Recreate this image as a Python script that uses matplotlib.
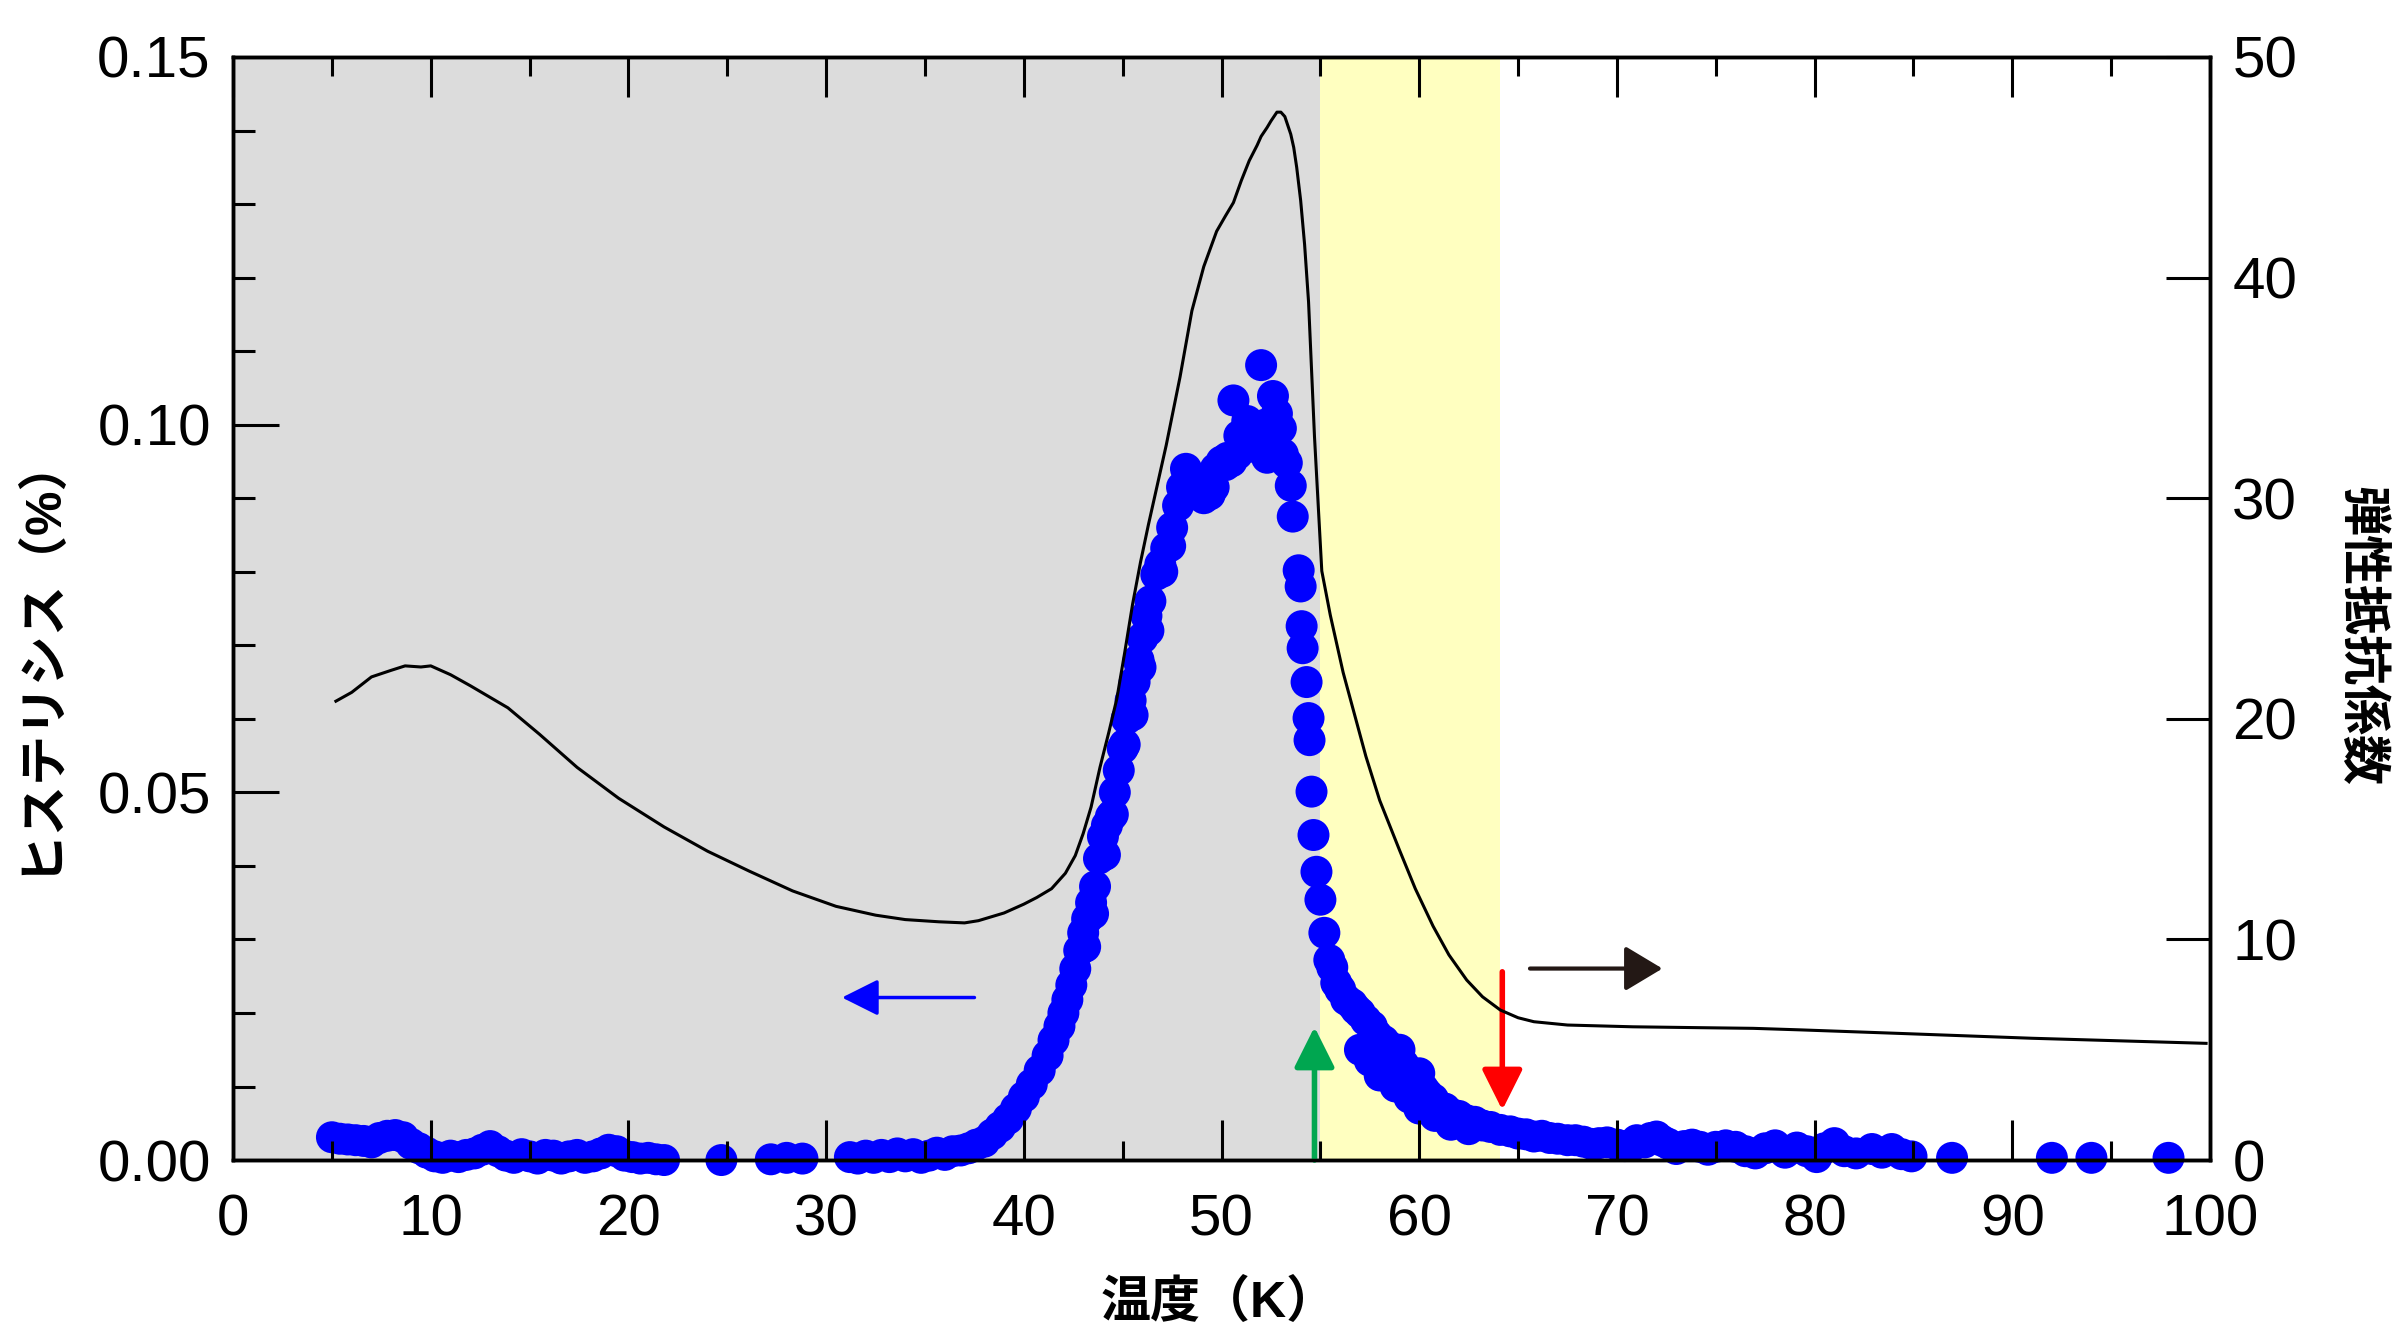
import matplotlib
matplotlib.use("Agg")
import matplotlib.pyplot as plt
from matplotlib.ticker import MultipleLocator

# hysteresis (%) vs temperature (K), left axis
temp_h = [5.0, 5.4, 5.8, 6.2, 6.6, 7.0, 7.4, 7.8, 8.2, 8.6, 9.0, 9.4, 9.8, 10.2, 10.6,
          11.0, 11.4, 11.8, 12.2, 12.6, 13.0, 13.4, 13.8, 14.2, 14.6, 15.0, 15.4, 15.8,
          16.2, 16.6, 17.0, 17.4, 17.8, 18.2, 18.6, 19.0, 19.4, 19.8, 20.2, 20.6, 21.0,
          21.4, 21.8, 24.7, 27.2, 28.0, 28.8,
          31.2, 31.6, 32.0, 32.4, 32.8, 33.2, 33.6, 34.0, 34.4, 34.8, 35.2, 35.6, 36.0,
          36.4, 36.8, 37.2, 37.6, 38.0, 38.4, 38.8, 39.2, 39.6, 40.0, 40.4, 40.8, 41.2,
          41.5, 41.8, 42.0, 42.2, 42.4, 42.6, 42.8, 43.0, 43.2, 43.4, 43.6, 43.8, 44.0,
          44.2, 44.4, 44.6, 44.8, 45.0, 45.2, 45.4, 45.6, 45.8, 46.0, 46.2, 46.4, 46.7,
          46.9, 47.2, 47.5, 47.8, 48.0, 48.2, 48.5, 48.8, 49.1, 49.4, 49.7, 50.0, 50.3,
          50.6, 50.8, 50.9, 51.1, 51.3, 51.4, 51.6, 51.7, 51.9, 52.0, 52.2, 52.3, 52.4,
          52.5, 52.6, 52.8, 53.0, 53.1, 53.3, 53.5, 53.6, 53.9, 54.0, 54.05, 54.1, 54.3,
          54.4, 54.45, 54.55, 54.65, 54.8, 55.0, 55.2, 55.45, 55.8, 56.3, 56.8, 57.3,
          57.85, 58.5, 58.9, 59.4, 59.9, 60.4, 61.0, 61.7, 62.4, 63.2, 64.1, 65.0, 65.8,
          66.6, 67.5, 68.3, 69.1, 70.0, 70.8, 71.4, 72.0, 72.6, 73.4, 74.2, 75.0, 76.0,
          77.0, 78.0, 79.1, 80.1, 81.0, 82.1, 82.9, 83.9, 84.9, 86.95, 92.0, 94.0, 97.9,
          # second pass of the same sweep (fills out the band)
          43.1, 43.5, 44.1, 44.5, 45.1, 45.5, 45.9, 46.3, 47.0, 47.4, 48.4, 49.0, 49.6,
          50.2, 50.5,
          55.6, 56.0, 56.6, 57.0, 57.6, 58.2, 58.7, 59.2, 59.7, 60.2, 60.7, 61.3, 62.0,
          62.8, 63.6, 64.6, 65.4, 66.2, 67.0, 67.9, 68.7, 69.5, 70.4, 71.0, 71.7, 72.3,
          73.0, 73.8, 74.6, 75.5, 76.5, 77.5, 78.5, 79.6, 80.5, 81.5, 83.4, 84.4,
          57.0, 57.5, 58.0, 58.8, 59.0, 59.5, 60.0, 60.0, 60.8, 61.6, 62.5]
hyst = [0.0031, 0.0029, 0.0028, 0.0027, 0.0026, 0.0024, 0.0030, 0.0033, 0.0034, 0.0031,
        0.0022, 0.0016, 0.0010, 0.0005, 0.0003, 0.0006, 0.0004, 0.0007, 0.0009, 0.0014,
        0.0019, 0.0012, 0.0006, 0.0003, 0.0008, 0.0005, 0.0002, 0.0007, 0.0006, 0.0002,
        0.0005, 0.0007, 0.0003, 0.0005, 0.0009, 0.0014, 0.0012, 0.0006, 0.0004, 0.0002,
        0.0003, 0.0001, 0.0000, 0.0000, 0.0001, 0.0003, 0.0002,
        0.0004, 0.0002, 0.0006, 0.0003, 0.0007, 0.0004, 0.0009, 0.0005, 0.0008, 0.0003,
        0.0006, 0.0010, 0.0007, 0.0012, 0.0013, 0.0016, 0.0021, 0.0025, 0.0035, 0.0045,
        0.0056, 0.0070, 0.0086, 0.0103, 0.0122, 0.0142, 0.0163, 0.0182, 0.0200, 0.0218,
        0.0238, 0.0260, 0.0285, 0.0309, 0.0328, 0.0350, 0.0372, 0.0410, 0.0440, 0.0455,
        0.0467, 0.0500, 0.0530, 0.0560, 0.0600, 0.0625, 0.0650, 0.0680, 0.0710, 0.0740,
        0.0760, 0.0796, 0.0810, 0.0832, 0.0860, 0.0890, 0.0915, 0.0940, 0.0930, 0.0915,
        0.0900, 0.0905, 0.0940, 0.0950, 0.0955, 0.1033, 0.0960, 0.0985, 0.0975, 0.1005,
        0.0990, 0.0970, 0.0985, 0.0990, 0.1081, 0.1000, 0.0955, 0.0960, 0.0985, 0.1039,
        0.1015, 0.0995, 0.0960, 0.0948, 0.0917, 0.0875, 0.0802, 0.0780, 0.0726, 0.0696,
        0.0650, 0.0601, 0.0571, 0.0501, 0.0442, 0.0392, 0.0354, 0.0309, 0.0272, 0.0241,
        0.0218, 0.0205, 0.0190, 0.0170, 0.0154, 0.0140, 0.0122, 0.0105, 0.0090, 0.0073,
        0.0062, 0.0054, 0.0047, 0.0041, 0.0036, 0.0032, 0.0030, 0.0027, 0.0025, 0.0023,
        0.0021, 0.0020, 0.0024, 0.0032, 0.0022, 0.0019, 0.0018, 0.0018, 0.0018, 0.0009,
        0.0020, 0.0017, 0.0004, 0.0023, 0.0009, 0.0015, 0.0015, 0.0005, 0.0003, 0.0003,
        0.0003, 0.0003,
        0.0290, 0.0335, 0.0415, 0.0470, 0.0565, 0.0605, 0.0670, 0.0720, 0.0800, 0.0835,
        0.0925, 0.0905, 0.0915, 0.0945, 0.0950,
        0.0262, 0.0232, 0.0212, 0.0200, 0.0182, 0.0162, 0.0146, 0.0130, 0.0113, 0.0097,
        0.0083, 0.0070, 0.0060, 0.0052, 0.0045, 0.0039, 0.0035, 0.0033, 0.0029, 0.0027,
        0.0022, 0.0024, 0.0019, 0.0027, 0.0030, 0.0026, 0.0015, 0.0021, 0.0014, 0.0020,
        0.0012, 0.0016, 0.0010, 0.0012, 0.0016, 0.0012, 0.0010, 0.0008,
        0.0150, 0.0135, 0.0115, 0.0100, 0.0150, 0.0085, 0.0070, 0.0118, 0.0060, 0.0048,
        0.0042]

# elastic resistance coefficient vs temperature, right axis
temp_r = [5.2, 6.0, 7.0, 8.0, 8.7, 9.5, 10.0, 11.0, 12.0, 13.9, 15.5, 17.4, 19.5, 21.8,
          24.0, 26.1, 28.3, 30.5, 32.5, 34.0, 35.7, 37.0, 37.7, 39.0, 40.0, 40.65, 41.4,
          42.1, 42.6, 43.0, 43.4, 43.85, 44.3, 44.7, 45.1, 45.5, 45.9, 46.3, 46.8, 47.2,
          47.9, 48.5, 49.1, 49.75, 50.2, 50.6, 51.0, 51.4, 51.8, 52.0, 52.3, 52.5, 52.8,
          53.0, 53.2, 53.35, 53.5, 53.65, 53.8, 54.0, 54.2, 54.4, 54.7, 54.9, 55.07, 55.5,
          56.15, 57.3, 58.0, 59.0, 59.8, 60.7, 61.5, 62.4, 63.2, 64.1, 65.0, 65.8, 67.5,
          70.8, 74.2, 76.9, 79.3, 84.3, 91.0, 99.8]
resist = [20.8, 21.2, 21.9, 22.2, 22.4, 22.35, 22.4, 22.0, 21.5, 20.5, 19.3, 17.8, 16.4,
          15.1, 14.0, 13.1, 12.2, 11.5, 11.1, 10.9, 10.8, 10.75, 10.85, 11.2, 11.6, 11.9,
          12.3, 13.0, 13.8, 14.8, 16.0, 17.8, 19.4, 20.9, 23.0, 25.2, 27.1, 28.8, 30.8,
          32.4, 35.5, 38.5, 40.5, 42.1, 42.8, 43.4, 44.4, 45.3, 46.0, 46.4, 46.8, 47.1,
          47.5, 47.5, 47.3, 46.9, 46.5, 45.9, 45.0, 43.5, 41.5, 38.9, 32.8, 29.5, 26.7,
          24.7, 22.1, 18.3, 16.3, 14.05, 12.3, 10.6, 9.3, 8.16, 7.4, 6.8, 6.45, 6.27, 6.12,
          6.04, 6.0, 5.97, 5.9, 5.74, 5.52, 5.29]

gray_span = (0, 55)
yellow_span = (55, 64.1)

cjk = ['Liberation Sans', 'Noto Sans CJK JP']
plt.rcParams['font.family'] = cjk

fig = plt.figure(figsize=(24.03, 13.38), dpi=100)
ax = fig.add_axes([0.0970, 0.1330, 0.8227, 0.8244])
ax.axvspan(*gray_span, color='#dcdcdc', lw=0, zorder=0)
ax.axvspan(*yellow_span, color='#ffffc0', lw=0, zorder=0)
ax.scatter(temp_h, hyst, s=530, color='#0000ff', edgecolors='none', clip_on=False, zorder=1)

ax.set_xlim(0, 100)
ax.set_ylim(0, 0.15)
ax.xaxis.set_major_locator(MultipleLocator(10))
ax.xaxis.set_minor_locator(MultipleLocator(5))
ax.yaxis.set_major_locator(MultipleLocator(0.05))
ax.yaxis.set_minor_locator(MultipleLocator(0.01))
ax.yaxis.set_major_formatter(lambda v, p: f"{v:.2f}")
ax.tick_params(axis='x', which='both', direction='in', top=True, width=2.2, labelsize=42, pad=24)
ax.tick_params(axis='x', which='major', length=29)
ax.tick_params(axis='x', which='minor', length=14)
ax.tick_params(axis='y', which='both', direction='in', width=2.2, labelsize=42, pad=16)
ax.tick_params(axis='y', which='major', length=33)
ax.tick_params(axis='y', which='minor', length=16)
for sp in ax.spines.values():
    sp.set_linewidth(2.5)

ax2 = ax.twinx()
ax2.plot(temp_r, resist, color='black', lw=2.2)
ax2.set_ylim(0, 50)
ax2.yaxis.set_major_locator(MultipleLocator(10))
ax2.tick_params(axis='y', direction='in', length=32, width=2.2, labelsize=42, pad=16)
for sp in ax2.spines.values():
    sp.set_linewidth(2.5)

# arrows
ax.annotate('', xy=(30.8, 0.0221), xytext=(37.5, 0.0221),
            arrowprops=dict(arrowstyle='-|>', color='#0000ff', lw=2.5, mutation_scale=56,
                            shrinkA=0, shrinkB=0))
ax2.annotate('', xy=(72.3, 8.68), xytext=(65.6, 8.68),
             arrowprops=dict(arrowstyle='-|>,head_length=0.4,head_width=0.24', color='#231815',
                             lw=3, mutation_scale=58, shrinkA=0, shrinkB=0))
ax.annotate('', xy=(54.7, 0.0181), xytext=(54.7, 0.0),
            arrowprops=dict(arrowstyle='-|>', color='#00a650', lw=4, mutation_scale=62,
                            shrinkA=0, shrinkB=0))
ax.annotate('', xy=(64.2, 0.0068), xytext=(64.2, 0.0256),
            arrowprops=dict(arrowstyle='-|>', color='#ff0000', lw=4, mutation_scale=62,
                            shrinkA=0, shrinkB=0))

fig.text(0.0158, 0.512, 'ヒステリシス（%）', rotation=90, ha='center', va='center',
         fontsize=36, fontweight='bold', family=cjk)
fig.text(0.982, 0.525, '弾性抵抗係数', rotation=-90, ha='center', va='center',
         fontsize=36, fontweight='bold', family=cjk)
fig.text(0.507, 0.0262, '温度（K）', ha='center', va='center',
         fontsize=36, fontweight='bold', family=cjk)

fig.savefig('out.png', dpi=100)
